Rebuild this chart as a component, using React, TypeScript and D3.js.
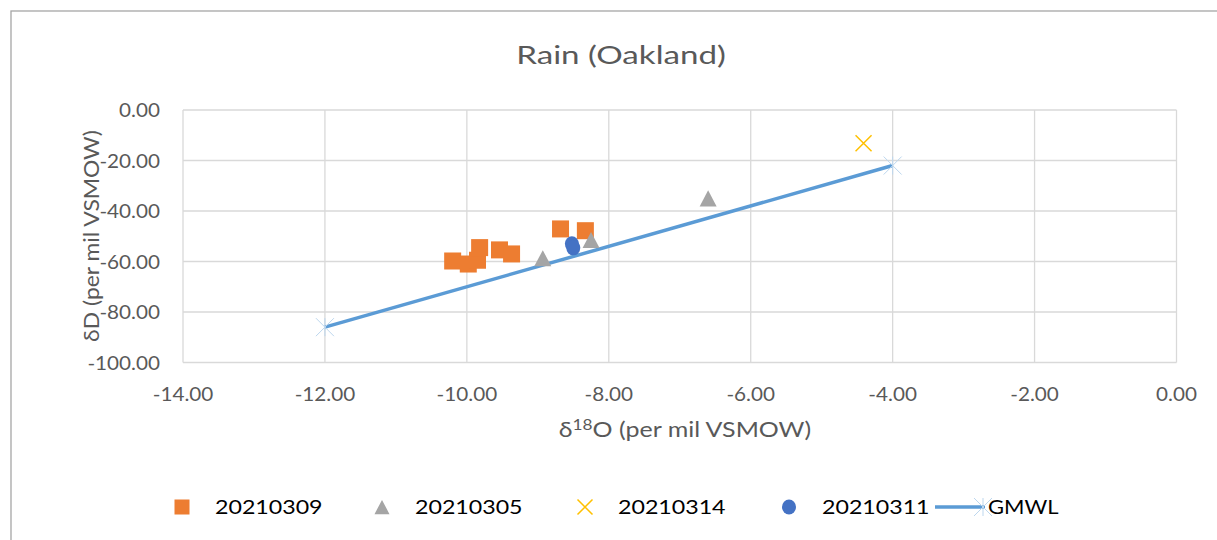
import { useMemo } from "react";
import * as d3 from "d3";

const WIDTH = 1217;
const HEIGHT = 540;
const PLOT = { left: 183, right: 1176.5, top: 110, bottom: 362.5 };
const FONT = "Lato, 'Open Sans', sans-serif";
const TEXT = "#595959";

// series (δ18O, δD)
const s20210309X = [-10.2, -9.98, -9.85, -9.82, -9.54, -9.37, -8.68, -8.33];
const s20210309Y = [-59.8, -61.0, -59.5, -54.5, -55.4, -57.0, -47.1, -47.8];
const s20210305X = [-8.93, -8.25, -6.6];
const s20210305Y = [-58.7, -51.5, -35.0];
const s20210314X = [-4.41];
const s20210314Y = [-13.2];
const s20210311X = [-8.52, -8.5];
const s20210311Y = [-53.0, -54.6];
const gmwlX = [-12, -4];
const gmwlY = [-86, -22];

const xTicks = [-14, -12, -10, -8, -6, -4, -2, 0];
const yTicks = [0, -20, -40, -60, -80, -100];

const COLORS = {
  orange: "#ED7D31",
  gray: "#A5A5A5",
  yellow: "#FFC000",
  blue: "#4472C4",
  line: "#5B9BD5",
};

const zip = (xs: number[], ys: number[]) => xs.map((x, i) => [x, ys[i]] as [number, number]);

// the reference text is set wider than Lato, so stretch it a little
const Label = ({
  x, y, sx = 1, size, anchor = "start", rotate = 0, fill = TEXT, children,
}: {
  x: number; y: number; sx?: number; size: number; anchor?: string; rotate?: number; fill?: string; children: any;
}) => (
  <text
    transform={`translate(${x},${y}) rotate(${rotate}) scale(${sx},1)`}
    textAnchor={anchor}
    fontFamily={FONT}
    fontSize={size}
    fill={fill}
  >
    {children}
  </text>
);

const Marker = ({ kind, x, y, s }: { kind: string; x: number; y: number; s: number }) => {
  if (kind === "square")
    return <rect x={x - s / 2} y={y - s / 2} width={s} height={s} fill={COLORS.orange} />;
  if (kind === "triangle") {
    const h = s * 0.95;
    return (
      <path
        d={`M${x},${y - h / 2} L${x + s / 2},${y + h / 2} L${x - s / 2},${y + h / 2} Z`}
        fill={COLORS.gray}
      />
    );
  }
  if (kind === "x") {
    const r = s / 2;
    return (
      <path
        d={`M${x - r},${y - r} L${x + r},${y + r} M${x - r},${y + r} L${x + r},${y - r}`}
        stroke={COLORS.yellow}
        strokeWidth={1.5}
      />
    );
  }
  if (kind === "circle")
    return <ellipse cx={x} cy={y} rx={s / 2 - 0.5} ry={s / 2} fill={COLORS.blue} />;
  // asterisk marker on the GMWL line
  const r = s / 2;
  return (
    <path
      d={`M${x - r},${y - r} L${x + r},${y + r} M${x - r},${y + r} L${x + r},${y - r} M${x},${y - r} L${x},${y + r}`}
      stroke="#BDD7EE"
      strokeWidth={1}
    />
  );
};

export default function App() {
  const xScale = useMemo(
    () => d3.scaleLinear().domain([-14, 0]).range([PLOT.left, PLOT.right]),
    []
  );
  const yScale = useMemo(
    () => d3.scaleLinear().domain([-100, 0]).range([PLOT.bottom, PLOT.top]),
    []
  );

  const linePath = d3
    .line<[number, number]>()
    .x((d) => xScale(d[0]))
    .y((d) => yScale(d[1]))(zip(gmwlX, gmwlY));

  const scatter = [
    { kind: "square", pts: zip(s20210309X, s20210309Y), size: 17 },
    { kind: "triangle", pts: zip(s20210305X, s20210305Y), size: 17 },
    { kind: "x", pts: zip(s20210314X, s20210314Y), size: 16 },
    { kind: "circle", pts: zip(s20210311X, s20210311Y), size: 15 },
  ];

  const legend = [
    { kind: "square", label: "20210309", x: 182 },
    { kind: "triangle", label: "20210305", x: 382 },
    { kind: "x", label: "20210314", x: 585 },
    { kind: "circle", label: "20210311", x: 789 },
  ];

  return (
    <svg
      width={WIDTH}
      height={HEIGHT}
      style={{ position: "absolute", left: 0, top: 0, background: "#fff" }}
    >
      <rect x={11} y={11} width={WIDTH} height={HEIGHT} fill="#fff" stroke="#A6A6A6" strokeWidth={1.3} />

      <Label x={621} y={64} size={25.5} sx={1.3} anchor="middle">
        Rain (Oakland)
      </Label>

      {/* gridlines */}
      {yTicks.map((t) => (
        <line key={`gy${t}`} x1={PLOT.left} x2={PLOT.right} y1={yScale(t)} y2={yScale(t)} stroke="#D9D9D9" strokeWidth={1.3} />
      ))}
      {xTicks.map((t) => (
        <line key={`gx${t}`} x1={xScale(t)} x2={xScale(t)} y1={PLOT.top} y2={PLOT.bottom} stroke="#D9D9D9" strokeWidth={1.3} />
      ))}

      {/* tick labels */}
      {yTicks.map((t) => (
        <Label key={`ty${t}`} x={160} y={yScale(t) + 7} size={19} sx={1.09} anchor="end">
          {t.toFixed(2)}
        </Label>
      ))}
      {xTicks.map((t) => (
        <Label key={`tx${t}`} x={xScale(t)} y={401} size={19} sx={1.09} anchor="middle">
          {t.toFixed(2)}
        </Label>
      ))}

      {/* axis titles */}
      <Label x={99} y={236} size={21} sx={1.09} rotate={-90} anchor="middle">
        δD (per mil VSMOW)
      </Label>
      <Label x={685} y={437} size={21} sx={1.19} anchor="middle">
        δ<tspan fontSize={14.5} dy={-7}>18</tspan>
        <tspan dy={7}>O (per mil VSMOW)</tspan>
      </Label>

      {/* GMWL */}
      <path d={linePath ?? ""} stroke={COLORS.line} strokeWidth={3.5} fill="none" />
      {zip(gmwlX, gmwlY).map((d, i) => (
        <Marker key={`g${i}`} kind="asterisk" x={xScale(d[0])} y={yScale(d[1])} s={18} />
      ))}

      {scatter.map((s) =>
        s.pts.map((d, i) => (
          <Marker key={`${s.kind}${i}`} kind={s.kind} x={xScale(d[0])} y={yScale(d[1])} s={s.size} />
        ))
      )}

      {/* legend */}
      {legend.map((l) => (
        <g key={l.label}>
          <Marker kind={l.kind} x={l.x} y={507} s={15} />
          <Label x={l.x + 33} y={514} size={20} sx={1.16} fill="#000">
            {l.label}
          </Label>
        </g>
      ))}
      <line x1={935} x2={985} y1={507} y2={507} stroke={COLORS.line} strokeWidth={3.5} />
      <Marker kind="asterisk" x={983} y={507} s={18} />
      <Label x={988} y={514} size={20} sx={1.1} fill="#000">
        GMWL
      </Label>
    </svg>
  );
}
